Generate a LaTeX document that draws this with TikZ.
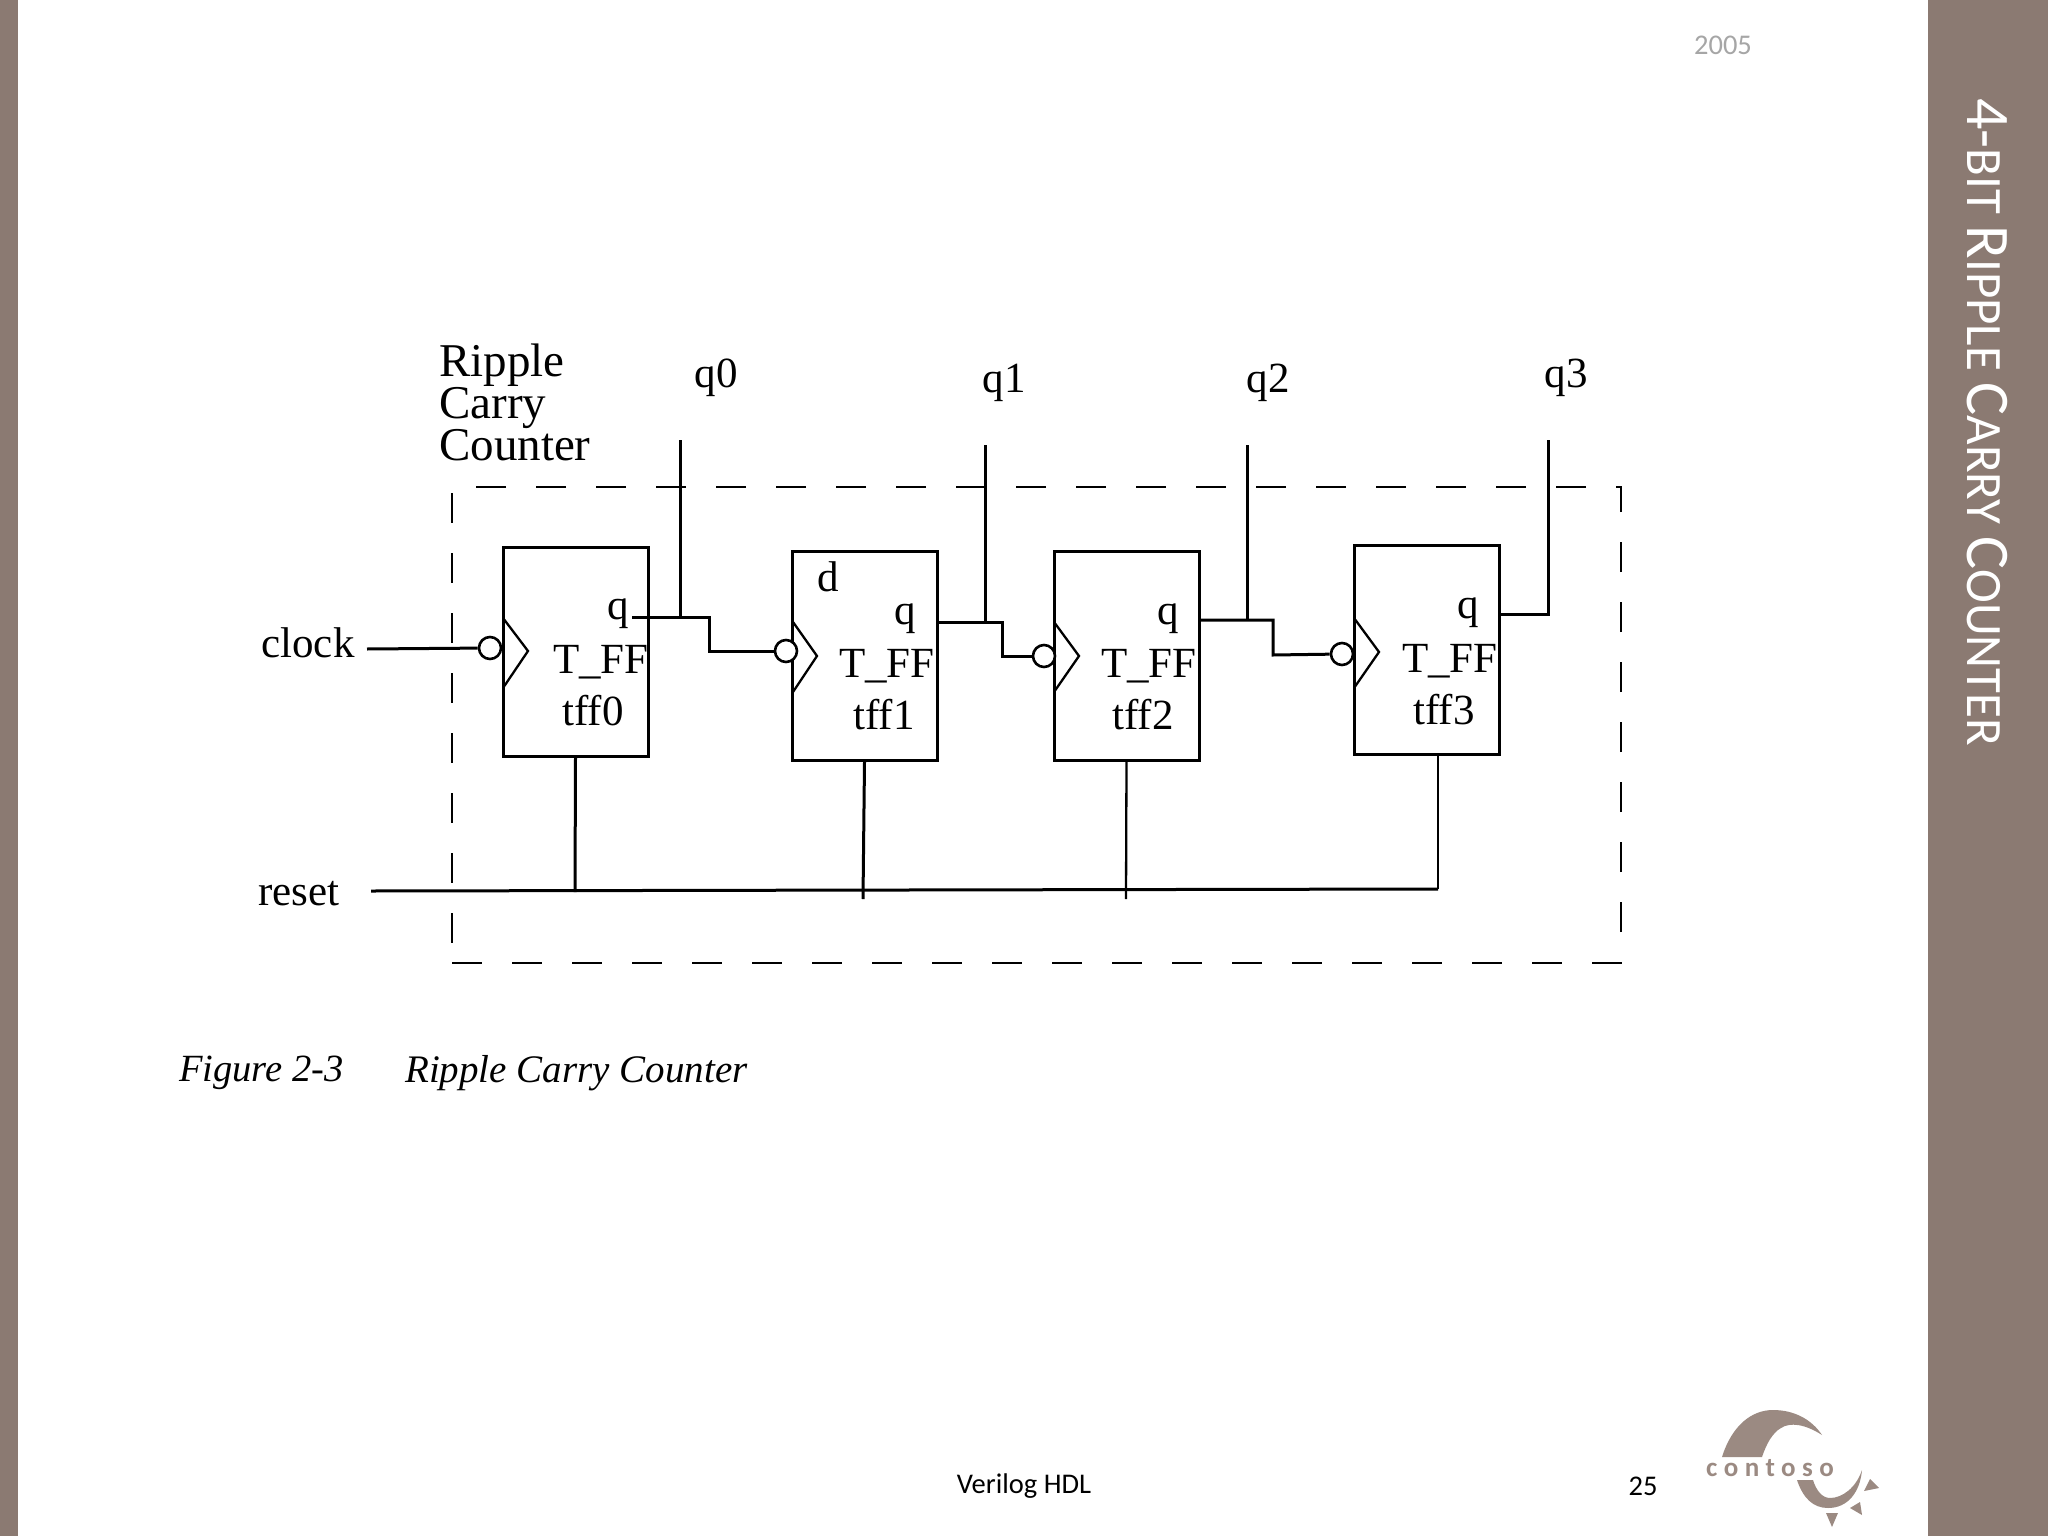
\documentclass[tikz,border=0pt]{standalone}
\usepackage{fontspec}
\setmainfont{Liberation Serif}
\newfontfamily\slidefont{Carlito}
\newfontfamily\logofont[LetterSpace=24]{Carlito}
\definecolor{slidebar}{HTML}{8B7A72}
\definecolor{logotone}{HTML}{9B8A82}
\definecolor{yeargray}{HTML}{A6A6A6}
\newcommand{\bigcapital}[1]{{\fontsize{62}{62}\selectfont #1}}
\tikzset{
    wire/.style={line width=3pt},
    thinwire/.style={line width=2.3pt},
    tffbox/.style={draw, line width=3pt, inner sep=0pt, minimum width=145pt, minimum height=209pt},
    bubble/.style={draw, circle, line width=2.6pt, inner sep=0pt, minimum size=22pt, fill=white},
    scan/.style={font=\fontsize{43}{43}\selectfont, inner sep=0pt},
    slidetext/.style={font=\slidefont\fontsize{28.5}{28.5}\selectfont, inner sep=0pt}
}
\begin{document}
\begin{tikzpicture}[x=1pt, y=-1pt]
        \useasboundingbox (0,0) rectangle (2048,1536);
        \fill[white] (0,0) rectangle (2048,1536);
        \fill[slidebar] (0,0) rectangle (18,1536);
        \fill[slidebar] (1928,0) rectangle (2048,1536);

        \node[rotate=-90, anchor=base west, text=white, inner sep=0pt, font=\slidefont\fontsize{51}{51}\selectfont] (title) at (1967,98) {\bigcapital{4-}BIT \bigcapital{R}IPPLE \bigcapital{C}ARRY \bigcapital{C}OUNTER};
        \node[slidetext, text=yeargray] (year) at (1723,45) {2005};
        \node[slidetext] (footer) at (1024,1486) {Verilog HDL};
        \node[slidetext] (pagenum) at (1643,1486) {25};

        \node[draw, line width=2.8pt, dash pattern=on 30pt off 30pt, inner sep=0pt, minimum width=1169pt, minimum height=476pt] (counterbox) at (1036.5,725) {};

        \node[align=left, anchor=west, inner sep=0pt, font=\fontsize{47}{42}\selectfont] (boxname) at (439,402) {Ripple\\Carry\\Counter};
        \node[scan] (clocklab) at (308,643) {clock};
        \node[scan] (resetlab) at (299,894) {reset};
        \node[scan] (q0lab) at (716,378) {q0};
        \node[scan] (q1lab) at (1004,383) {q1};
        \node[scan] (q2lab) at (1268,383) {q2};
        \node[scan] (q3lab) at (1566,378) {q3};

        \node[tffbox] (tff0) at (575.5,651.5) {};
        \node[tffbox] (tff1) at (864.5,656) {};
        \node[tffbox] (tff2) at (1126.5,656) {};
        \node[tffbox] (tff3) at (1427,650) {};

        \node[scan] (q0in) at (618,614) {q};
        \node[scan] (name0) at (601,662) {T\_FF};
        \node[scan] (inst0) at (593,711) {tff0};
        \node[scan] (dlab) at (828,577) {d};
        \node[scan] (q1in) at (905,619) {q};
        \node[scan] (name1) at (887,666) {T\_FF};
        \node[scan] (inst1) at (884,715) {tff1};
        \node[scan] (q2in) at (1168,619) {q};
        \node[scan] (name2) at (1149,666) {T\_FF};
        \node[scan] (inst2) at (1143,715) {tff2};
        \node[scan] (q3in) at (1468,613) {q};
        \node[scan] (name3) at (1450,661) {T\_FF};
        \node[scan] (inst3) at (1444,710) {tff3};

        \draw[thinwire] (503,618) -- (528,651) -- (503,688);
        \draw[thinwire] (793,622) -- (817,656) -- (793,692);
        \draw[thinwire] (1054,622) -- (1079,656) -- (1054,692);
        \draw[thinwire] (1354,618) -- (1379,652) -- (1354,688);

        \node[bubble] (bub0) at (490,648) {};
        \node[bubble] (bub1) at (786,651) {};
        \node[bubble] (bub2) at (1044,656) {};
        \node[bubble] (bub3) at (1342,654) {};

        \coordinate (clockin) at (367,649);
        \coordinate (resetin) at (371,891);
        \coordinate (resetend) at (1438,889);
        \coordinate (q0out) at (632,617);
        \coordinate (q0tee) at (680,617);
        \coordinate (q0top) at (680,440);
        \coordinate (q0upper) at (709,617);
        \coordinate (q0lower) at (709,651);
        \coordinate (q1tee) at (985,622);
        \coordinate (q1top) at (985,445);
        \coordinate (q1upper) at (1002,622);
        \coordinate (q1lower) at (1002,656);
        \coordinate (q2tee) at (1247,620);
        \coordinate (q2top) at (1247,445);
        \coordinate (q2upper) at (1273,620);
        \coordinate (q2lower) at (1273,655);
        \coordinate (q3out) at (1548,614);
        \coordinate (q3top) at (1548,440);
        \coordinate (rst0) at (575,892);
        \coordinate (rst1) at (863,899);
        \coordinate (rst2) at (1126,899);

        \draw[wire] (clockin) -- (bub0);
        \draw[wire] (q0out) -- (q0upper) -- (q0lower) -- (bub1);
        \draw[wire] (q0top) -- (q0tee);
        \draw[wire] (tff1.east |- q1upper) -- (q1upper) -- (q1lower) -- (bub2);
        \draw[wire] (q1top) -- (q1tee);
        \draw[wire] (tff2.east |- q2upper) -- (q2upper) -- (q2lower) -- (bub3);
        \draw[wire] (q2top) -- (q2tee);
        \draw[wire] (tff3.east |- q3out) -- (q3out) -- (q3top);
        \draw[wire] (resetin) -- (resetend);
        \draw[wire] (tff0.south) -- (rst0);
        \draw[wire] (tff1.south) -- (rst1);
        \draw[thinwire] (tff2.south) -- (rst2);
        \draw[thinwire] (tff3.south -| resetend) -- (resetend);

        \node[inner sep=0pt, anchor=west, font=\itshape\fontsize{38.5}{38.5}\selectfont] (figlab) at (179,1073) {Figure 2-3};
        \node[inner sep=0pt, anchor=west, font=\itshape\fontsize{39}{39}\selectfont] (figname) at (405,1073) {Ripple Carry Counter};

        \fill[logotone] (1722,1457) .. controls (1732,1425) and (1752,1410) .. (1773,1410) .. controls (1795,1410) and (1812,1420) .. (1822,1435) .. controls (1805,1424) and (1790,1422) .. (1781,1428) .. controls (1772,1433) and (1766,1445) .. (1762,1457) -- cycle;
        \fill[logotone] (1797,1480) .. controls (1803,1498) and (1813,1508) .. (1828,1508) .. controls (1848,1508) and (1860,1492) .. (1862,1470) .. controls (1856,1488) and (1842,1498) .. (1830,1498) .. controls (1822,1498) and (1816,1490) .. (1813,1480) -- cycle;
        \fill[logotone] (1870,1479) -- (1879,1488) -- (1864,1491) -- cycle;
        \fill[logotone] (1860,1502) -- (1862,1515) -- (1850,1508) -- cycle;
        \fill[logotone] (1826,1513) -- (1838,1513) -- (1832,1527) -- cycle;
        \node[inner sep=0pt, text=logotone, font=\logofont\bfseries\fontsize{27}{27}\selectfont] (logoname) at (1770,1468) {contoso};
    \end{tikzpicture}
\end{document}
